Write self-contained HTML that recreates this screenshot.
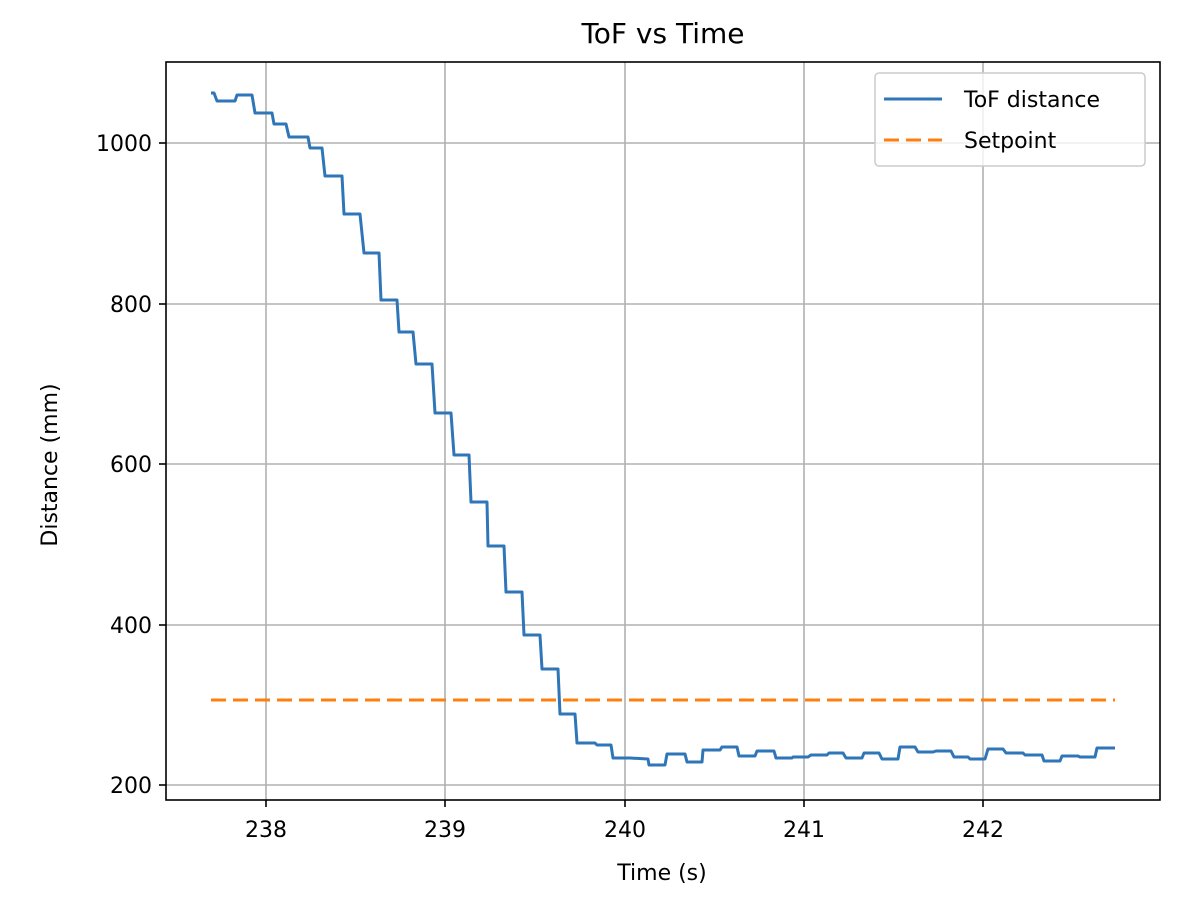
<!DOCTYPE html>
<html><head><meta charset="utf-8"><style>body{margin:0;background:#fff}svg{display:block}text{font-family:"DejaVu Sans","Liberation Sans",sans-serif;fill:#000}</style></head>
<body>
<svg width="1188" height="906" viewBox="0 0 1188 906" xmlns="http://www.w3.org/2000/svg">
<rect width="1188" height="906" fill="#fff"/>
<g stroke="#b0b0b0" stroke-width="1.6">
<line x1="266" y1="62" x2="266" y2="800"/><line x1="445" y1="62" x2="445" y2="800"/><line x1="625" y1="62" x2="625" y2="800"/><line x1="804" y1="62" x2="804" y2="800"/><line x1="983" y1="62" x2="983" y2="800"/>
<line x1="166" y1="143" x2="1160" y2="143"/><line x1="166" y1="304" x2="1160" y2="304"/><line x1="166" y1="464" x2="1160" y2="464"/><line x1="166" y1="625" x2="1160" y2="625"/><line x1="166" y1="785" x2="1160" y2="785"/>
</g>
<line x1="211" y1="700" x2="1115" y2="700" stroke="#ff7f0e" stroke-width="3" stroke-dasharray="15 7"/>
<polyline fill="none" stroke="#2f76b8" stroke-width="3" stroke-linejoin="round" points="211,93 214,93 217,101 235,101 237,95 252,95 255,113 272,113 274,124 286,124 289,137 308,137 310,148 322,148 325,176 342,176 344,214 360,214 364,253 379,253 381,300 397,300 399,332 413,332 416,364 432,364 435,413 451,413 454,455 469,455 471,502 487,502 488,546 504,546 506,592 522,592 524,635 540,635 542,669 558,669 560,714 575,714 577,743 595,743 597,745 611,745 613,758 630,758 648,759 649,765 665,765 667,754 685,754 687,762 702,762 703,750 720,750 722,747 737,747 739,756 755,756 757,751 774,751 776,758 792,758 793,757 808,757 811,755 827,755 829,753 843,753 846,758 862,758 864,753 879,753 882,759 898,759 900,747 915,747 918,752 933,752 936,751 951,751 954,757 968,757 970,759 985,759 988,749 1003,749 1006,753 1023,753 1025,755 1042,755 1044,761 1060,761 1062,756 1078,756 1080,757 1095,757 1097,748 1115,748"/>
<rect x="166" y="62" width="994" height="738" fill="none" stroke="#000" stroke-width="1.6"/>
<g stroke="#000" stroke-width="1.6">
<line x1="266" y1="800" x2="266" y2="807"/><line x1="445" y1="800" x2="445" y2="807"/><line x1="625" y1="800" x2="625" y2="807"/><line x1="804" y1="800" x2="804" y2="807"/><line x1="983" y1="800" x2="983" y2="807"/>
<line x1="159" y1="143" x2="166" y2="143"/><line x1="159" y1="304" x2="166" y2="304"/><line x1="159" y1="464" x2="166" y2="464"/><line x1="159" y1="625" x2="166" y2="625"/><line x1="159" y1="785" x2="166" y2="785"/>
</g>
<g font-size="22" text-anchor="middle">
<text x="266" y="837">238</text><text x="445" y="837">239</text><text x="625" y="837">240</text><text x="804" y="837">241</text><text x="983" y="837">242</text>
<text x="662" y="880">Time (s)</text>
</g>
<g font-size="22" text-anchor="end">
<text x="152" y="151">1000</text><text x="152" y="312">800</text><text x="152" y="472">600</text><text x="152" y="633">400</text><text x="152" y="793">200</text>
</g>
<text x="57" y="465" font-size="22" text-anchor="middle" transform="rotate(-90 57 465)">Distance (mm)</text>
<text x="663" y="43" font-size="28" text-anchor="middle">ToF vs Time</text>
<rect x="875" y="73" width="270" height="93" rx="4" fill="#fff" fill-opacity="0.8" stroke="#ccc" stroke-width="1.5"/>
<line x1="884" y1="99" x2="942" y2="99" stroke="#2f76b8" stroke-width="3"/>
<line x1="884" y1="140" x2="942" y2="140" stroke="#ff7f0e" stroke-width="3" stroke-dasharray="15 7"/>
<text x="964" y="107" font-size="22">ToF distance</text>
<text x="964" y="148" font-size="22">Setpoint</text>
</svg>
</body></html>
